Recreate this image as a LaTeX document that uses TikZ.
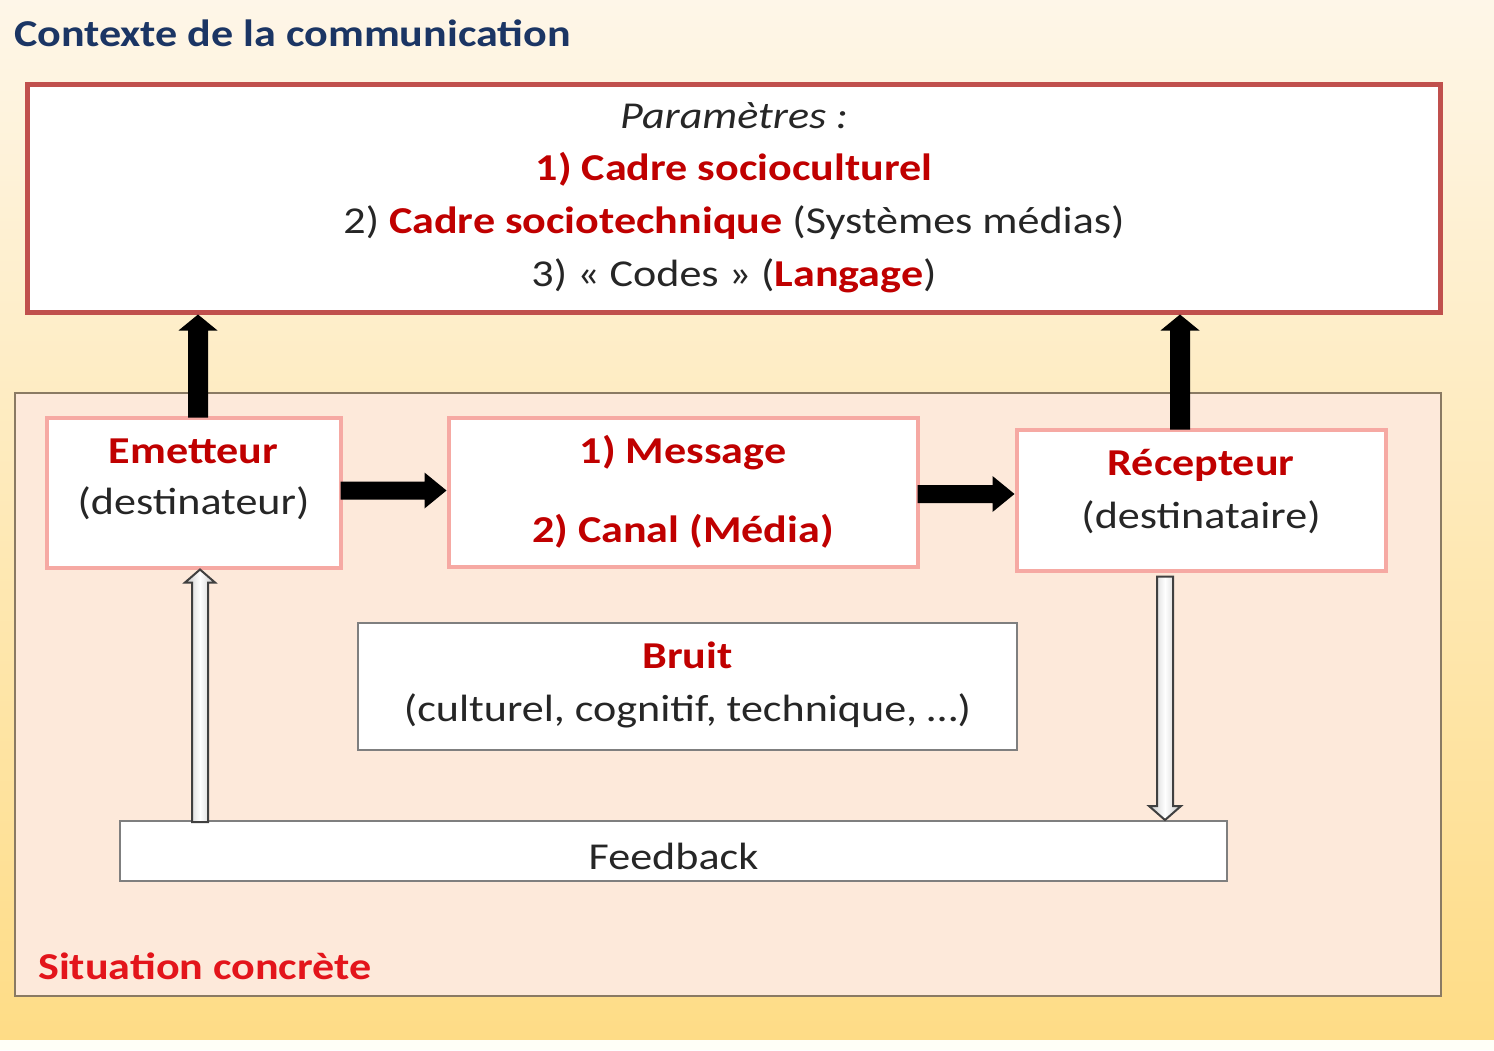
\documentclass[tikz,border=0pt]{standalone}
\usepackage{fontspec}
\setmainfont{Carlito}[FakeStretch=1.16]
\usetikzlibrary{calc}
\definecolor{titleblue}{HTML}{1B3564}
\definecolor{dred}{HTML}{C00000}
\definecolor{bred}{HTML}{E3151B}
\definecolor{txt}{HTML}{262626}
\definecolor{parborder}{HTML}{C0504D}
\definecolor{pinkborder}{HTML}{F6A9A3}
\definecolor{sitfill}{HTML}{FDE9DA}
\definecolor{sitborder}{HTML}{8A7A63}
\definecolor{grayborder}{HTML}{7F7F7F}
\definecolor{bgtop}{HTML}{FEF6E8}
\definecolor{bgbot}{HTML}{FEDC86}
\newcommand\arrUp[6]{\path[#1] let \p1=(#2),\p2=(#3) in (\x1-#4,\y1) -- (\x1-#4,\y2-#6) -- (\x1-#5,\y2-#6) -- (\x1,\y2) -- (\x1+#5,\y2-#6) -- (\x1+#4,\y2-#6) -- (\x1+#4,\y1) -- cycle;}
\newcommand\arrDown[6]{\path[#1] let \p1=(#2),\p2=(#3) in (\x1-#4,\y1) -- (\x1-#4,\y2+#6) -- (\x1-#5,\y2+#6) -- (\x1,\y2) -- (\x1+#5,\y2+#6) -- (\x1+#4,\y2+#6) -- (\x1+#4,\y1) -- cycle;}
\newcommand\arrRight[6]{\path[#1] let \p1=(#2),\p2=(#3) in (\x1,\y1-#4) -- (\x2-#6,\y1-#4) -- (\x2-#6,\y1-#5) -- (\x2,\y1) -- (\x2-#6,\y1+#5) -- (\x2-#6,\y1+#4) -- (\x1,\y1+#4) -- cycle;}
\begin{document}
\begin{tikzpicture}[x=1pt,y=-1pt,
  box/.style={rectangle, minimum width=#1, inner sep=0pt},
  parbox/.style={draw=parborder, line width=5pt, fill=white},
  sitbox/.style={draw=sitborder, line width=2.5pt, fill=sitfill},
  pinkbox/.style={draw=pinkborder, line width=4pt, fill=white},
  graybox/.style={draw=grayborder, line width=2pt, fill=white},
  lbl/.style={inner sep=0pt, anchor=base, font=\fontsize{38}{46}\selectfont, text=txt},
  rlbl/.style={lbl, font=\fontsize{38}{46}\selectfont\bfseries, text=dred},
  blackarrow/.style={fill=black},
  grayarrow/.style={draw=black!75, line width=2pt, left color=gray!45, right color=gray!45, middle color=white}
]
\useasboundingbox (0,0) rectangle (1494,1050);
\shade[top color=bgtop, bottom color=bgbot] (0,0) rectangle (1494,1040);
\fill[white!97!yellow] (0,1040) rectangle (1494,1050);

\node[inner sep=0pt, anchor=base west, font=\fontsize{38}{46}\selectfont\bfseries, text=titleblue] (title) at (14,46) {Contexte de la communication};

% Context parameters
\node[box=1413pt, minimum height=228pt, parbox] (par) at (733.5,198) {};
\node[lbl, font=\fontsize{38}{46}\selectfont\itshape] (p0) at (734,128) {Paramètres :};
\node[rlbl] (p1) at (734,180) {1) Cadre socioculturel};
\node[lbl] (p2) at (734,233) {2) \textcolor{dred}{\bfseries Cadre sociotechnique} (Systèmes médias)};
\node[lbl] (p3) at (734,286) {3) « Codes » (\textcolor{dred}{\bfseries Langage})};

% Situation
\node[box=1426pt, minimum height=603pt, sitbox] (sit) at (728,694.5) {};
\node[inner sep=0pt, anchor=base west, font=\fontsize{38}{46}\selectfont\bfseries, text=bred] (sitl) at (38,979) {Situation concrète};

\node[box=294pt, minimum height=150pt, pinkbox] (em) at (193.5,492.5) {};
\node[rlbl] (emA) at (193.5,463) {Emetteur};
\node[lbl] (emB) at (193.5,514) {(destinateur)};

\node[box=469pt, minimum height=149pt, pinkbox] (msg) at (683,492) {};
\node[rlbl] (msgA) at (683,463) {1) Message};
\node[rlbl] (msgB) at (683,542) {2) Canal (Média)};

\node[box=369pt, minimum height=141pt, pinkbox] (rec) at (1201,500) {};
\node[rlbl] (recA) at (1201,475) {Récepteur};
\node[lbl] (recB) at (1201,528) {(destinataire)};

\node[box=659pt, minimum height=127pt, graybox] (bruit) at (687.5,686.5) {};
\node[rlbl] (brA) at (687.5,668) {Bruit};
\node[lbl] (brB) at (687.5,721) {(culturel, cognitif, technique, …)};

\node[box=1107pt, minimum height=60pt, graybox] (fb) at (673.5,851) {};
\node[lbl] (fbA) at (673.5,869) {Feedback};

% Arrows
\arrUp{blackarrow}{$(em.north)+(4.5,2)$}{par.south}{10pt}{19.5pt}{16pt}
\arrUp{blackarrow}{$(rec.north)+(-21,2)$}{par.south}{10pt}{19.5pt}{16pt}
\arrRight{blackarrow}{$(em.east)+(-2,-2)$}{msg.west}{9pt}{18pt}{22pt}
\arrRight{blackarrow}{$(msg.east)+(-2,2)$}{rec.west}{9pt}{18pt}{22pt}
\arrUp{grayarrow}{$(fb.north west)+(81,2)$}{em.south}{8pt}{15pt}{13pt}
\arrDown{grayarrow}{$(rec.south)+(-36,4)$}{fb.north}{8pt}{16pt}{14pt}
\end{tikzpicture}
\end{document}
